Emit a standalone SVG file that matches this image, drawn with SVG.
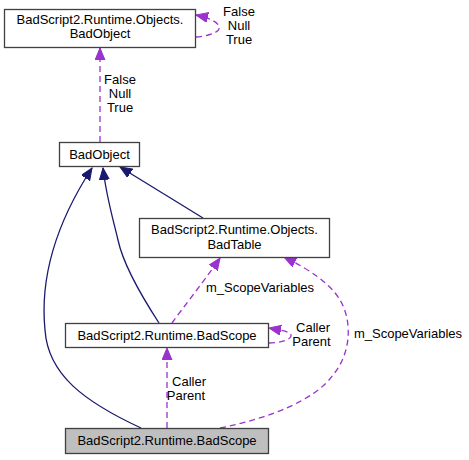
<svg xmlns="http://www.w3.org/2000/svg" width="469" height="460" viewBox="0 0 469 460">
<style>
text{font-family:"Liberation Sans",Arial,sans-serif;font-size:13px;fill:#000}
.n{fill:#fff;stroke:#404040;stroke-width:1.3}
.g{fill:#bfbfbf;stroke:#404040;stroke-width:1.3}
.i{fill:none;stroke:#191970;stroke-width:1.3}
.u{fill:none;stroke:#9a32cd;stroke-width:1.3;stroke-dasharray:6,4}
.c{text-anchor:middle}
</style>
<defs>
<marker id="an" markerUnits="userSpaceOnUse" markerWidth="14" markerHeight="12" refX="12" refY="5" orient="auto">
<path d="M0,0 L12,5 L0,10 z" fill="#191970" stroke="#191970" stroke-width="1"/>
</marker>
<marker id="ap" markerUnits="userSpaceOnUse" markerWidth="14" markerHeight="12" refX="12" refY="5" orient="auto">
<path d="M0,0 L12,5 L0,10 z" fill="#9a32cd" stroke="#9a32cd" stroke-width="1"/>
</marker>
</defs>
<g id="edges">
<path class="u" d="M100,142 L100,48" marker-end="url(#ap)"/>
<path class="u" d="M196,37 C208,36 222,32 219,26 C217,22 210,18 196,15" marker-end="url(#ap)"/>
<path class="i" d="M141,428 C85,402 48,375 45,330 C40,280 55,225 92,168" marker-end="url(#an)"/>
<path class="i" d="M159,323 C146,303 124,268 118,240 C112,215 106,195 103,168" marker-end="url(#an)"/>
<path class="i" d="M203,218 L120,167" marker-end="url(#an)"/>
<path class="u" d="M172,323 C185,305 205,280 220,258" marker-end="url(#ap)"/>
<path class="u" d="M220,428 C270,418 315,400 333,375 C352,352 352,320 340,300 C330,283 310,270 284,257" marker-end="url(#ap)"/>
<path class="u" d="M269,343 C279,343 292,340 291,335 C290,332 285,331 269,328" marker-end="url(#ap)"/>
<path class="u" d="M167,428 L167,348" marker-end="url(#ap)"/>
</g>
<g id="edge-labels">
<text class="c" x="120" y="84">False</text>
<text class="c" x="120" y="98">Null</text>
<text class="c" x="120" y="112">True</text>
<text class="c" x="239" y="16">False</text>
<text class="c" x="239" y="30">Null</text>
<text class="c" x="239" y="44">True</text>
<text class="c" x="260" y="292">m_ScopeVariables</text>
<text class="c" x="408" y="338">m_ScopeVariables</text>
<text class="c" x="313" y="332">Caller</text>
<text class="c" x="311.5" y="346">Parent</text>
<text class="c" x="189" y="386">Caller</text>
<text class="c" x="186" y="400">Parent</text>
</g>
<g id="node-objects-badobject">
<rect class="n" x="4.5" y="9.5" width="191" height="38"/>
<text class="c" x="100" y="23.5">BadScript2.Runtime.Objects.</text>
<text class="c" x="100" y="37.5">BadObject</text>
</g>
<g id="node-badobject">
<rect class="n" x="59.5" y="142.5" width="80" height="24"/>
<text class="c" x="99.5" y="158.5">BadObject</text>
</g>
<g id="node-badtable">
<rect class="n" x="139.5" y="218.5" width="190" height="39"/>
<text class="c" x="234.5" y="234">BadScript2.Runtime.Objects.</text>
<text class="c" x="234.5" y="248.5">BadTable</text>
</g>
<g id="node-badscope-mid">
<rect class="n" x="65.5" y="323.5" width="203" height="24"/>
<text class="c" x="167" y="339.5">BadScript2.Runtime.BadScope</text>
</g>
<g id="node-badscope-main">
<rect class="g" x="65.5" y="428.5" width="203" height="25"/>
<text class="c" x="167" y="445">BadScript2.Runtime.BadScope</text>
</g>
</svg>
